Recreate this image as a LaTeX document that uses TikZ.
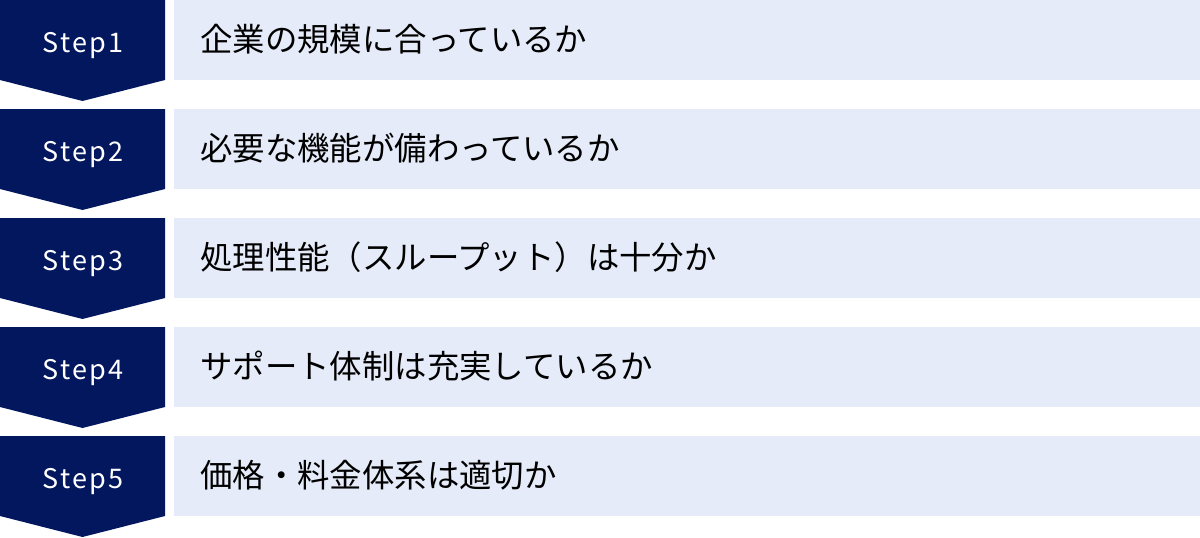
\documentclass[tikz,border=0pt]{standalone}
\usepackage{fontspec}
\setmainfont{Noto Sans CJK JP}
\newfontfamily\steplabelfont[LetterSpace=8]{Noto Sans CJK JP}
\definecolor{navy}{HTML}{03175E}
\definecolor{lightbg}{HTML}{E5EBF8}
\begin{document}
\begin{tikzpicture}[x=1pt,y=-1pt,
  chev/.style={fill=navy,draw=none},
  band/.style={fill=lightbg,draw=none},
  steptext/.style={text=white,font=\steplabelfont\fontsize{27}{32}\selectfont,anchor=base,inner sep=0pt},
  itemtext/.style={text=black,font=\fontsize{32.4}{38}\selectfont,anchor=base west,inner sep=0pt}]
\useasboundingbox (0,0) rectangle (1200,538);
\foreach \i/\t in {0/企業の規模に合っているか,1/必要な機能が備わっているか,2/処理性能（スループット）は十分か,3/サポート体制は充実しているか,4/価格・料金体系は適切か}{
  \pgfmathsetmacro{\yy}{109*\i}
  \fill[chev] (0,\yy) -- (165,\yy) -- (165,\yy+80) -- (82.5,\yy+101) -- (0,\yy+80) -- cycle;
  \fill[band] (174,\yy) rectangle (1200,\yy+80);
  \pgfmathtruncatemacro{\n}{\i+1}
  \node[steptext] (s\n) at (83,\yy+52) {Step\n};
  \node[itemtext] (t\n) at (200,\yy+51) {\t};
}
\end{tikzpicture}
\end{document}
